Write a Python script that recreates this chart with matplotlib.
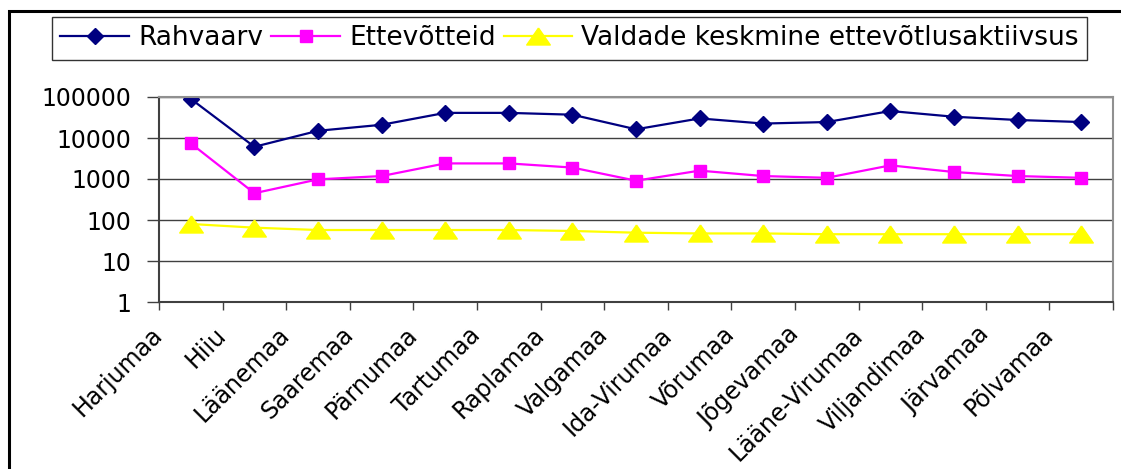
import numpy as np
import matplotlib
matplotlib.use("Agg")
import matplotlib.pyplot as plt
from matplotlib.patches import Rectangle
from matplotlib.ticker import FixedLocator, NullLocator

plt.rcParams['font.family'] = ['DejaVu Sans']

# maakonnad
counties = ["Harjumaa", "Hiiu", "Läänemaa", "Saaremaa", "Pärnumaa", "Tartumaa",
            "Raplamaa", "Valgamaa", "Ida-Virumaa", "Võrumaa", "Jõgevamaa",
            "Lääne-Virumaa", "Viljandimaa", "Järvamaa", "Põlvamaa"]

# values (log scale)
rahvaarv = [90000, 6100, 15000, 21000, 41000, 41000, 37000, 16300, 30000,
            22500, 24500, 45500, 33000, 27500, 24500]
ettevotteid = [7400, 450, 980, 1180, 2400, 2400, 1900, 910, 1600,
               1180, 1070, 2150, 1480, 1180, 1070]
aktiivsus = [80, 65, 57, 57, 57, 57, 54, 49, 47, 47, 45, 45, 45, 45, 45]

y_ticks = [1, 10, 100, 1000, 10000, 100000]

W, H = 1121, 469
fig = plt.figure(figsize=(W / 100, H / 100), dpi=100)
ax = fig.add_axes([159 / W, (H - 302) / H, (1113 - 159) / W, (302 - 97) / H])

x = np.arange(len(counties))

# wide flat triangle like the Excel marker
tri = [(0, 0.72), (-1, -0.72), (1, -0.72), (0, 0.72)]

ax.plot(x, rahvaarv, color='#000080', lw=1.6, marker='D', ms=8.5,
        label="Rahvaarv")
ax.plot(x, ettevotteid, color='#FF00FF', lw=1.6, marker='s', ms=8.5,
        label="Ettevõtteid")
ax.plot(x, aktiivsus, color='#FFFF00', lw=1.6, marker=tri, ms=17,
        label="Valdade keskmine ettevõtlusaktiivsus")

ax.set_yscale('log')
ax.set_ylim(1, 100000)
ax.yaxis.set_major_locator(FixedLocator(y_ticks))
ax.yaxis.set_minor_locator(NullLocator())
ax.set_yticklabels([str(v) for v in y_ticks], fontsize=17)
ax.grid(axis='y', color='#404040', lw=1)
ax.set_axisbelow(True)

ax.set_xlim(-0.5, len(counties) - 0.5)
ax.set_xticks(np.arange(len(counties) + 1) - 0.5)
ax.set_xticklabels(counties + [""], fontsize=17, rotation=45,
                   ha='right', va='center', rotation_mode='anchor')
ax.tick_params(axis='x', length=6, width=1, color='#404040', pad=15)
ax.tick_params(axis='y', length=9, width=1, color='#404040', pad=11)

for s in ['top', 'right']:
    ax.spines[s].set_color('#909090')
    ax.spines[s].set_linewidth(1.5)
for s in ['left', 'bottom']:
    ax.spines[s].set_color('#404040')
    ax.spines[s].set_linewidth(1.5)

leg = fig.legend(loc='upper left', bbox_to_anchor=(52 / W, (H - 17) / H),
                 ncol=3, fontsize=19, frameon=True, fancybox=False,
                 edgecolor='black', handlelength=2.6, handletextpad=0.35,
                 columnspacing=0.3, borderpad=0.32, borderaxespad=0)
leg.get_frame().set_linewidth(1)

# outer chart frame (cut off at right and bottom)
fig.patches.append(Rectangle((9 / W, -0.1), 1.2, (H - 11) / H + 0.1,
                             transform=fig.transFigure, fill=False,
                             edgecolor='black', lw=2.2))

fig.savefig("out.png", dpi=100)
